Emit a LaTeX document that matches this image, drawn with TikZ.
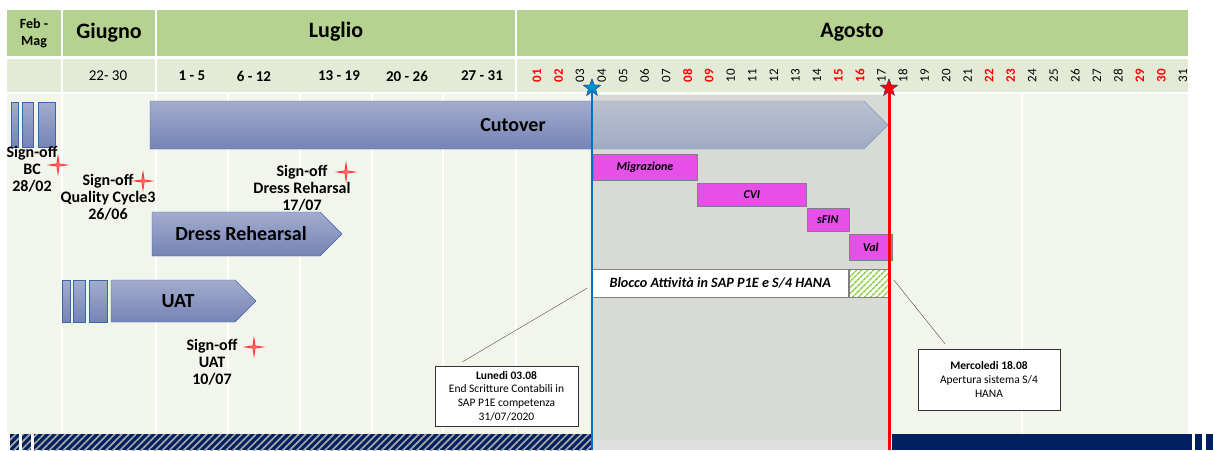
\documentclass[tikz,border=0pt]{standalone}
\usepackage{fontspec}
\setmainfont{Carlito}
\usetikzlibrary{positioning,shapes.symbols,shapes.geometric,patterns.meta}

\definecolor{hdrgreen}{HTML}{B5D291}
\definecolor{rowgreen}{HTML}{E3EBD7}
\definecolor{bodygreen}{HTML}{F2F5EC}
\definecolor{freezegrey}{HTML}{D8DAD5}
\definecolor{phasetop}{HTML}{A3ACCD}
\definecolor{phasebot}{HTML}{7584B6}
\definecolor{phaseline}{HTML}{3A66A7}
\definecolor{taskpink}{HTML}{E64FE8}
\definecolor{navy}{HTML}{002060}
\definecolor{startblue}{HTML}{0070C0}
\definecolor{hatchgreen}{HTML}{92D050}

\tikzset{
  phase/.style={signal, signal to=east, signal pointer angle=90, draw=phaseline,
    top color=phasetop, bottom color=phasebot, inner sep=0pt},
  phaselabel/.style={font=\fontsize{20}{22}\selectfont\bfseries},
  block/.style={draw=phaseline, top color=phasetop, bottom color=phasebot, inner sep=0pt},
  task/.style={draw=gray, fill=taskpink, inner sep=0pt,
    font=\fontsize{12}{14}\selectfont\bfseries\itshape},
  signoff/.style={align=center, inner sep=0pt, font=\fontsize{16}{17}\selectfont\bfseries},
  spark/.style={star, star points=4, star point ratio=5, shading=radial,
    inner color=red!55, outer color=red, minimum size=22pt, inner sep=0pt},
  milestone/.style={star, star points=5, star point ratio=2.4, draw=navy!80,
    minimum size=18pt, inner sep=0pt},
  callout/.style={draw=black!80, fill=white, align=center, inner sep=0pt,
    font=\fontsize{11.5}{13.6}\selectfont},
  month/.style={font=\fontsize{22}{24}\selectfont\bfseries},
  week/.style={font=\fontsize{15}{16}\selectfont\bfseries},
  day/.style={rotate=90, font=\fontsize{13}{13}\selectfont},
  holiday/.style={day, text=red, font=\fontsize{13}{13}\selectfont\bfseries},
  bar/.style={preaction={fill=navy}, pattern={Lines[angle=45,distance=5pt,line width=1.7pt]},
    pattern color=gray!70},
}

\begin{document}
\begin{tikzpicture}[x=1pt, y=-1pt]
  \useasboundingbox (0,0) rectangle (1213,450);

  % Grid
  \fill[white] (0,0) rectangle (1213,450);
  \fill[hdrgreen] (7,10) rectangle (1188,56);
  \fill[rowgreen] (7,59) rectangle (1188,92);
  \fill[bodygreen] (7,94) rectangle (1188,434);
  \foreach \x in {62,156,516}
    \draw[white, line width=1.5pt] (\x,10) -- (\x,434);
  \foreach \x in {228,300,372,443,1022}
    \draw[white, line width=1.5pt] (\x,94) -- (\x,434);
  \fill[freezegrey] (592,95) rectangle (888,440);
  \fill[gray!25] (592,440) rectangle (888,450);

  % Header
  \node[align=center, font=\fontsize{14}{17}\selectfont\bfseries] (febmag) at (34,33) {Feb -\\Mag};
  \node[month] (giugno) at (109,33) {Giugno};
  \node[month] (luglio) at (336,32) {Luglio};
  \node[month] (agosto) at (852,32) {Agosto};
  \node[font=\fontsize{15}{16}\selectfont] (w1) at (108,76) {22- 30};
  \node[week] (w2) at (192,76) {1 - 5};
  \node[week] (w3) at (254,76) {6 - 12};
  \node[week] (w4) at (339,76) {13 - 19};
  \node[week] (w5) at (407,76) {20 - 26};
  \node[week] (w6) at (482,76) {27 - 31};
  \foreach \i in {1,...,31}{
    \pgfmathtruncatemacro\wk{mod(\i,7)}
    \def\dstyle{day}
    \ifnum\wk>0 \ifnum\wk<3 \def\dstyle{holiday}\fi\fi
    \node[\dstyle] (d\i) at ({537+(\i-1)*21.53},76) {\ifnum\i<10 0\fi\i};
  }

  % Bottom bar
  \path[bar] (10,434) rectangle (19,450);
  \path[bar] (22,434) rectangle (31,450);
  \path[bar] (34,434) rectangle (592,450);
  \fill[navy] (892,434) rectangle (1192,450);
  \fill[navy] (1195,434) rectangle (1202,450);
  \fill[navy] (1206,434) rectangle (1213,450);

  % Phases
  \node[block, minimum width=7pt, minimum height=45pt] (c1) at (14.5,125) {};
  \node[block, minimum width=11pt, minimum height=45pt] (c2) at (27.5,125) {};
  \node[block, minimum width=17pt, minimum height=45pt] (c3) at (46.5,125) {};
  \node[phase, minimum width=738pt, minimum height=48pt] (cutover) at (507,125) {};
  \fill[freezegrey, opacity=0.45] (592,95) rectangle (888,152);
  \node[phaselabel] (cutoverlbl) at ([xshift=6pt]cutover.center) {Cutover};

  \node[phase, minimum width=190pt, minimum height=44pt] (dress) at (236,234) {};
  \node[phaselabel] (dresslbl) at ([xshift=5pt]dress.center) {Dress Rehearsal};

  \node[block, minimum width=8pt, minimum height=42pt] (u1) at (66,301) {};
  \node[block, minimum width=12pt, minimum height=42pt] (u2) at (79,301) {};
  \node[block, minimum width=18pt, minimum height=42pt] (u3) at (98,301) {};
  \node[phase, minimum width=145pt, minimum height=42pt] (uat) at (173,301) {};
  \node[phaselabel] (uatlbl) at ([xshift=5pt]uat.center) {UAT};

  % Sign-off
  \node[signoff] (sobc) at (32,169) {Sign-off\\BC\\28/02};
  \node[spark] (stbc) at (58,165) {};
  \node[signoff] (soqc) at (108,197) {Sign-off\\Quality Cycle3\\26/06};
  \node[spark] (stqc) at (143,181) {};
  \node[signoff] (sodr) at (302,188) {Sign-off\\Dress Reharsal\\17/07};
  \node[spark] (stdr) at (346,172) {};
  \node[signoff] (souat) at (212,362) {Sign-off\\UAT\\10/07};
  \node[spark] (stuat) at (254,347) {};

  % Tasks
  \node[task, minimum width=104pt, minimum height=26pt] (mig) at (645,167) {Migrazione};
  \node[task, minimum width=109pt, minimum height=23pt, below right=3pt and 0pt of mig] (cvi) {CVI};
  \node[task, minimum width=42pt, minimum height=23pt, below right=1pt and 0pt of cvi] (sfin) {sFIN};
  \node[task, minimum width=43pt, minimum height=26pt, below right=3pt and 0pt of sfin] (val) {Val};
  \node[draw=gray, fill=white, minimum width=256pt, minimum height=28pt, inner sep=0pt,
    anchor=north west, font=\fontsize{14.2}{16}\selectfont\bfseries\itshape] (blocco) at (592,269)
    {Blocco Attività in SAP P1E e S/4 HANA};
  \node[draw=gray, preaction={fill=white}, pattern={Lines[angle=45,distance=4pt,line width=1.6pt]},
    pattern color=hatchgreen, minimum width=39pt, minimum height=28pt, inner sep=0pt,
    right=0pt of blocco] (hatch) {};

  % Go-live lines
  \node[milestone, fill=startblue!80!cyan] (start) at (592,88) {};
  \node[milestone, fill=red] (golive) at (889,88) {};
  \draw[startblue, line width=2.5pt] (start.center) -- ++(0,362);
  \draw[red, line width=3pt] (golive.center) -- ++(0,362);
  \node[milestone, fill=startblue!80!cyan] at (start) {};
  \node[milestone, fill=red] at (golive) {};

  % Callouts
  \node[callout, minimum width=143pt, minimum height=60pt] (lun) at (506.5,396)
    {\textbf{Lunedi 03.08}\\End Scritture Contabili in\\SAP P1E competenza\\31/07/2020};
  \node[callout, minimum width=142pt, minimum height=61pt] (merc) at (989,379.5)
    {\textbf{Mercoledi 18.08}\\Apertura sistema S/4\\HANA};
  \draw[black!70] ([xshift=-44pt, yshift=4pt]lun.north) -- ([xshift=-5pt, yshift=-5pt]blocco.west);
  \draw[black!70] ([xshift=-44pt, yshift=5pt]merc.north) -- ([xshift=5pt, yshift=3pt]hatch.east);
\end{tikzpicture}
\end{document}
